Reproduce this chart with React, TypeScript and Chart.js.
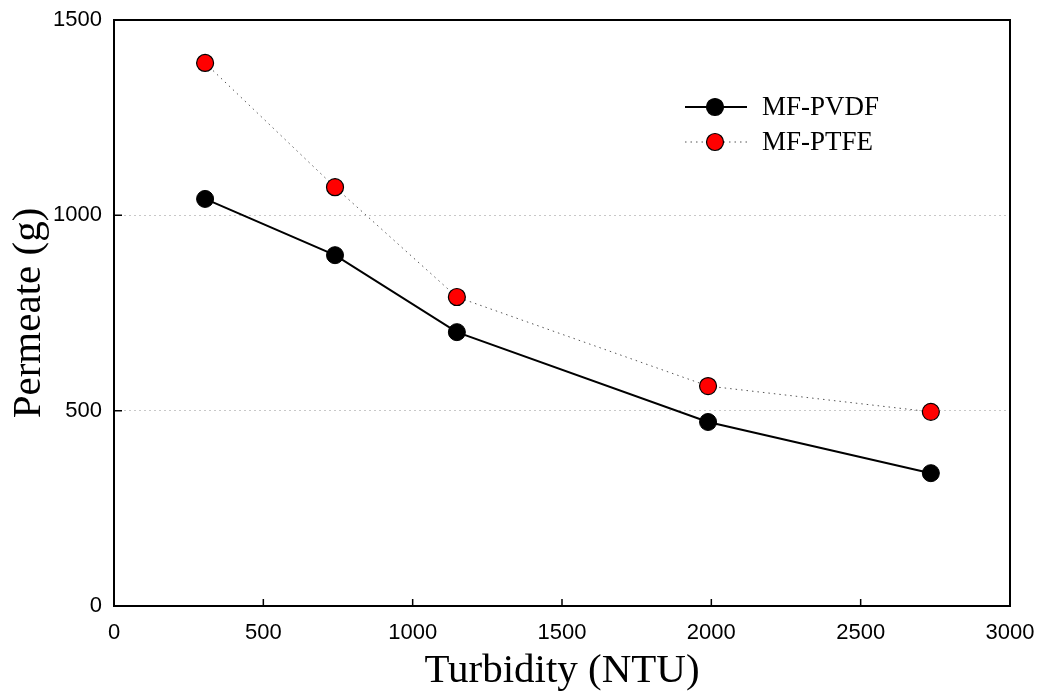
import React, { useEffect, useRef } from "react";
import { Chart, registerables } from "chart.js";

Chart.register(...registerables);

const turbidity = [305, 740, 1148, 1989, 2735];
const pvdfPermeate = [1042, 898, 701, 471, 340];
const ptfePermeate = [1390, 1072, 791, 563, 497];
const seriesNames = ["MF-PVDF", "MF-PTFE"];
const xTicks = [0, 500, 1000, 1500, 2000, 2500, 3000];
const yTicks = [0, 500, 1000, 1500];
const xTitle = "Turbidity (NTU)";
const yTitle = "Permeate (g)";

const serif = "'Liberation Serif', 'Times New Roman', serif";
const sans = "'Liberation Sans', Arial, sans-serif";

const boxAndLegend = {
  id: "boxAndLegend",
  afterDraw(chart: any) {
    const { ctx, chartArea, scales } = chart;
    const { left, right, top, bottom } = chartArea;
    ctx.save();
    ctx.strokeStyle = "#000";
    ctx.lineWidth = 2;
    ctx.strokeRect(left, top, right - left, bottom - top);

    // inward tick marks
    ctx.lineWidth = 1.5;
    ctx.beginPath();
    xTicks.forEach((v) => {
      const px = scales.x.getPixelForValue(v);
      ctx.moveTo(px, bottom);
      ctx.lineTo(px, bottom - 7);
    });
    yTicks.forEach((v) => {
      const py = scales.y.getPixelForValue(v);
      ctx.moveTo(left, py);
      ctx.lineTo(left + 8, py);
    });
    ctx.stroke();

    // legend
    const items = [
      { name: seriesNames[0], fill: "#000", dash: [] as number[], line: "#000", lw: 2 },
      { name: seriesNames[1], fill: "#ff0000", dash: [1.5, 4], line: "#555", lw: 1 },
    ];
    const lx0 = 685;
    const lx1 = 747;
    const mx = 715;
    const tx = 762;
    const ys = [107, 142];
    items.forEach((it, i) => {
      const y = ys[i];
      ctx.beginPath();
      ctx.setLineDash(it.dash);
      ctx.strokeStyle = it.line;
      ctx.lineWidth = it.lw;
      ctx.moveTo(lx0, y);
      ctx.lineTo(lx1, y);
      ctx.stroke();
      ctx.setLineDash([]);
      ctx.beginPath();
      ctx.arc(mx, y, 8.5, 0, Math.PI * 2);
      ctx.fillStyle = it.fill;
      ctx.fill();
      ctx.lineWidth = 1.2;
      ctx.strokeStyle = "#000";
      ctx.stroke();
      ctx.fillStyle = "#000";
      ctx.font = `27px ${serif}`;
      ctx.textBaseline = "middle";
      ctx.textAlign = "left";
      ctx.fillText(it.name, tx, y + 1);
    });
    ctx.restore();
  },
};

export default function App() {
  const ref = useRef<HTMLCanvasElement | null>(null);
  useEffect(() => {
    if (!ref.current) return;
    const chart = new Chart(ref.current, {
      type: "line",
      data: {
        datasets: [
          {
            label: seriesNames[0],
            data: turbidity.map((x, i) => ({ x, y: pvdfPermeate[i] })),
            borderColor: "#000",
            borderWidth: 2,
            pointRadius: 8.5,
            pointBackgroundColor: "#000",
            pointBorderColor: "#000",
            pointBorderWidth: 1,
            tension: 0,
          },
          {
            label: seriesNames[1],
            data: turbidity.map((x, i) => ({ x, y: ptfePermeate[i] })),
            borderColor: "#555",
            borderWidth: 1,
            borderDash: [1.5, 4],
            pointRadius: 8.5,
            pointBackgroundColor: "#ff0000",
            pointBorderColor: "#000",
            pointBorderWidth: 1.2,
            tension: 0,
          },
        ],
      },
      options: {
        responsive: false,
        animation: false,
        layout: { padding: { left: 0, top: 20, right: 36, bottom: 0 } },
        plugins: { legend: { display: false }, tooltip: { enabled: false } },
        scales: {
          x: {
            type: "linear",
            min: 0,
            max: 3000,
            afterBuildTicks: (s: any) => {
              s.ticks = xTicks.map((v) => ({ value: v }));
            },
            afterFit: (s: any) => {
              s.height = 92;
              s.paddingLeft = 0;
              s.paddingRight = 0;
            },
            grid: { display: false, drawTicks: false },
            border: { display: false },
            ticks: {
              padding: 14,
              color: "#000",
              font: { family: sans, size: 22 },
              maxRotation: 0,
              callback: (v: any) => String(v),
            },
            title: {
              display: true,
              text: xTitle,
              color: "#000",
              font: { family: serif, size: 41, lineHeight: 1 },
              padding: { top: 0, bottom: 6 },
            },
          },
          y: {
            type: "linear",
            min: 0,
            max: 1500,
            afterBuildTicks: (s: any) => {
              s.ticks = yTicks.map((v) => ({ value: v }));
            },
            afterFit: (s: any) => {
              s.width = 114;
              s.paddingTop = 0;
              s.paddingBottom = 0;
            },
            grid: {
              drawTicks: false,
              color: (c: any) =>
                c.tick && (c.tick.value === 500 || c.tick.value === 1000) ? "#c8c8c8" : "rgba(0,0,0,0)",
              lineWidth: 1,
            },
            border: { display: false, dash: [2, 3] },
            ticks: {
              padding: 12,
              color: "#000",
              font: { family: sans, size: 22 },
              callback: (v: any) => String(v),
            },
            title: {
              display: true,
              text: yTitle,
              color: "#000",
              font: { family: serif, size: 41, lineHeight: 1 },
              padding: { top: 9, bottom: 0 },
            },
          },
        },
      },
      plugins: [boxAndLegend],
    } as any);
    return () => chart.destroy();
  }, []);
  return (
    <div style={{ position: "fixed", left: 0, top: 0, width: 1046, height: 698, background: "#fff" }}>
      <canvas ref={ref} width={1046} height={698} style={{ width: 1046, height: 698 }} />
    </div>
  );
}
